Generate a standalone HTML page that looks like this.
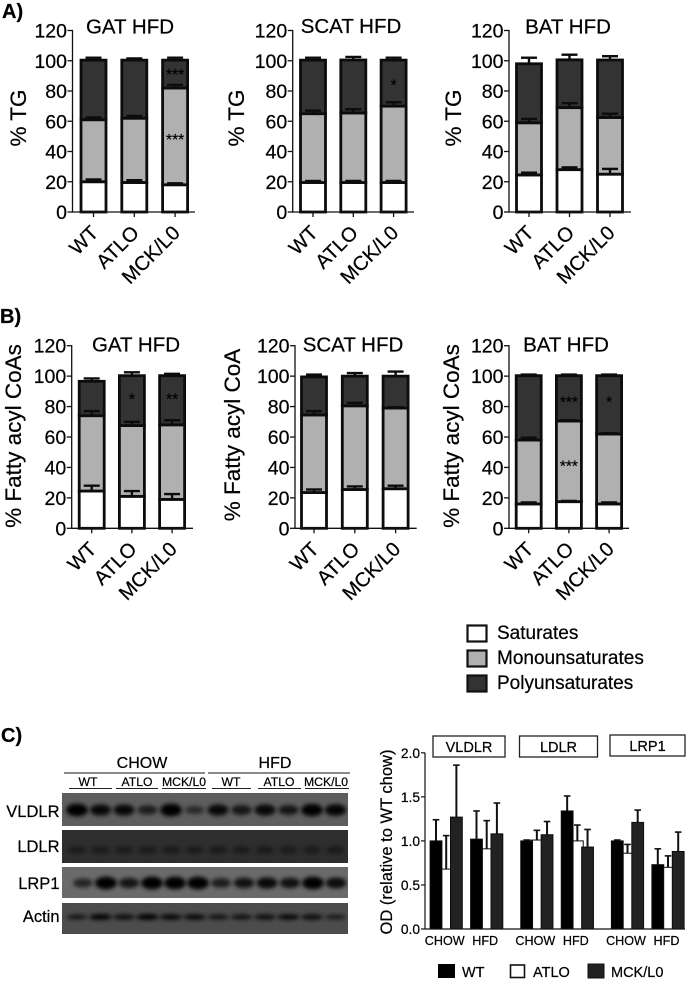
<!DOCTYPE html>
<html lang="en">
<head>
<meta charset="utf-8">
<title>Lipid composition and receptor blots</title>
<style>
html,body{margin:0;padding:0;background:#fff;}
svg{display:block;font-family:"Liberation Sans",Arial,sans-serif;filter:blur(0.3px);}
text{fill:#000;stroke:#000;stroke-width:0.22px;}
</style>
</head>
<body>
<svg id="fig" xmlns="http://www.w3.org/2000/svg" width="693" height="1002" viewBox="0 0 693 1002">
<defs>
<filter id="bandBlur" x="-40%" y="-80%" width="180%" height="260%"><feGaussianBlur stdDeviation="2"/></filter>
</defs>
<text x="2" y="18" font-size="20" font-weight="bold">A)</text>
<text x="0" y="323" font-size="20" font-weight="bold">B)</text>
<text x="1" y="742" font-size="20" font-weight="bold">C)</text>

<g>
<rect x="467.5" y="625.5" width="19" height="16" fill="#fff" stroke="#111" stroke-width="2.2"/>
<rect x="467.5" y="650.5" width="19" height="16" fill="#b0b0b0" stroke="#111" stroke-width="2.2"/>
<rect x="467.5" y="675.5" width="19" height="16" fill="#333" stroke="#111" stroke-width="2.2"/>
<text x="497" y="639" font-size="19">Saturates</text>
<text x="497" y="664" font-size="19">Monounsaturates</text>
<text x="497" y="689" font-size="19">Polyunsaturates</text>
</g>

<g>
<text x="142" y="768" font-size="16" text-anchor="middle">CHOW</text>
<text x="275" y="768" font-size="16" text-anchor="middle">HFD</text>
<line x1="64" x2="205" y1="773" y2="773" stroke="#444" stroke-width="1.2"/>
<line x1="208" x2="350" y1="773" y2="773" stroke="#444" stroke-width="1.2"/>
<text x="88" y="786" font-size="12.2" text-anchor="middle">WT</text>
<text x="137" y="786" font-size="12.2" text-anchor="middle">ATLO</text>
<text x="184" y="786" font-size="12.2" text-anchor="middle">MCK/L0</text>
<text x="231" y="786" font-size="12.2" text-anchor="middle">WT</text>
<text x="279" y="786" font-size="12.2" text-anchor="middle">ATLO</text>
<text x="326" y="786" font-size="12.2" text-anchor="middle">MCK/L0</text>
<line x1="69" x2="112" y1="788.5" y2="788.5" stroke="#222"/>
<line x1="116" x2="158" y1="788.5" y2="788.5" stroke="#222"/>
<line x1="162" x2="206" y1="788.5" y2="788.5" stroke="#222"/>
<line x1="212" x2="251" y1="788.5" y2="788.5" stroke="#222"/>
<line x1="258" x2="301" y1="788.5" y2="788.5" stroke="#222"/>
<line x1="305" x2="349" y1="788.5" y2="788.5" stroke="#222"/>
</g>
<g>
<text x="59.5" y="817" font-size="16.5" text-anchor="end">VLDLR</text>
<text x="59.5" y="852" font-size="16.5" text-anchor="end">LDLR</text>
<text x="59.5" y="889" font-size="16.5" text-anchor="end">LRP1</text>
<text x="59.5" y="922" font-size="16.5" text-anchor="end">Actin</text>
</g>
<g id="blots"></g>
<g id="stacked"></g>

<g>
<rect x="433" y="736" width="72" height="21" fill="#fff" stroke="#222" stroke-width="1.3"/>
<text x="469" y="752" font-size="14.5" text-anchor="middle">VLDLR</text>
<rect x="519.5" y="736" width="78" height="21" fill="#fff" stroke="#222" stroke-width="1.3"/>
<text x="558.5" y="752" font-size="14.5" text-anchor="middle">LDLR</text>
<rect x="610" y="735" width="75" height="21" fill="#fff" stroke="#222" stroke-width="1.3"/>
<text x="647.5" y="751" font-size="14.5" text-anchor="middle">LRP1</text>
</g>
<g id="od"></g>
<text transform="translate(392,842) rotate(-90)" font-size="16.5" text-anchor="middle">OD (relative to WT chow)</text>
<g>
<rect x="438" y="964" width="17" height="14" fill="#000"/>
<text x="462" y="977" font-size="14.5">WT</text>
<rect x="510.5" y="965" width="14" height="12.5" fill="#fff" stroke="#111" stroke-width="1.6"/>
<text x="533" y="977" font-size="14.5">ATLO</text>
<rect x="588" y="964" width="16" height="14" fill="#222" stroke="#111"/>
<text x="611" y="977" font-size="14.5">MCK/L0</text>
</g>
</svg>
<script>
// ---------- stacked composition data (segment means and error values, %) ----------
const genotypes = ['WT', 'ATLO', 'MCK/L0'];
const percentTicks = [0, 20, 40, 60, 80, 100, 120];

const gatTgSat = [20, 19.5, 18];
const gatTgMono = [41, 42.5, 64];
const gatTgPoly = [39.4, 38.4, 18.4];
const gatTgSatErr = [1.5, 1.5, 1];
const gatTgMonoErr = [1.5, 1.5, 2];
const gatTgPolyErr = [1.6, 1.1, 1.6];

const scatTgSat = [19.5, 19.5, 19.5];
const scatTgMono = [45.5, 46, 50.5];
const scatTgPoly = [35.4, 35, 30.4];
const scatTgSatErr = [1, 1, 1];
const scatTgMonoErr = [2, 2.5, 2.5];
const scatTgPolyErr = [1.6, 2, 1.6];

const batTgSat = [24.5, 28, 25];
const batTgMono = [34.5, 41, 37.5];
const batTgPoly = [39, 31.6, 38];
const batTgSatErr = [1.5, 1.5, 3.5];
const batTgMonoErr = [2.5, 3, 2.5];
const batTgPolyErr = [4, 3.4, 2.5];

const gatCoaSat = [24.5, 21, 19];
const gatCoaMono = [49.5, 46.5, 49];
const gatCoaPoly = [22.6, 32.8, 32.3];
const gatCoaSatErr = [3.5, 3.5, 3.5];
const gatCoaMonoErr = [3, 2.5, 3];
const gatCoaPolyErr = [1.9, 2.2, 1.2];

const scatCoaSat = [23.5, 25.5, 26];
const scatCoaMono = [51, 55, 53];
const scatCoaPoly = [25, 19.5, 21];
const scatCoaSatErr = [2, 2, 2];
const scatCoaMonoErr = [2.5, 2, 0.5];
const scatCoaPolyErr = [1.5, 2, 3];

const batCoaSat = [16, 17.5, 16];
const batCoaMono = [42, 53, 46];
const batCoaPoly = [42.3, 29.8, 38.3];
const batCoaSatErr = [1, 0.5, 1];
const batCoaMonoErr = [1.5, 0.5, 0.5];
const batCoaPolyErr = [0.7, 0.7, 0.7];

// ---------- OD chart data ----------
const proteins = ['VLDLR', 'LDLR', 'LRP1'];
const conditions = ['CHOW', 'HFD'];
const odTicks = ['0.0', '0.5', '1.0', '1.5', '2.0'];
const odWt = [1.0, 1.02, 1.0, 1.34, 1.0, 0.73];
const odAtlo = [0.68, 0.91, 1.01, 1.0, 0.86, 0.70];
const odMck = [1.27, 1.08, 1.07, 0.93, 1.21, 0.88];
const odWtErr = [0.24, 0.32, 0.01, 0.17, 0.01, 0.18];
const odAtloErr = [0.38, 0.32, 0.11, 0.18, 0.10, 0.13];
const odMckErr = [0.59, 0.35, 0.15, 0.20, 0.14, 0.22];

// ---------- blot band intensities, lane by lane ----------
const vldlrBands = [1, 0.8, 0.8, 0.5, 1, 0.3, 0.8, 0.6, 0.8, 0.6, 0.95, 0.85];
const ldlrBands = [0.1, 0.1, 0.1, 0.1, 0.12, 0.1, 0.12, 0.1, 0.1, 0.1, 0.08, 0.12];
const lrp1Bands = [0.45, 1, 0.65, 1, 1, 1, 0.55, 0.7, 0.8, 0.7, 1, 0.75];
const actinBands = [0.6, 0.95, 0.75, 1, 0.85, 0.85, 0.65, 0.7, 0.75, 0.85, 0.8, 0.55];

const SVGNS = 'http://www.w3.org/2000/svg';
function mk(tag, attrs, parent, txt) {
  const el = document.createElementNS(SVGNS, tag);
  for (const k in attrs) el.setAttribute(k, attrs[k]);
  if (txt !== undefined) el.textContent = txt;
  parent.appendChild(el);
  return el;
}

const stackedRoot = document.getElementById('stacked');
const panels = [
  {id:'a-gat', title:'GAT HFD', ytitle:'% TG', s:[gatTgSat,gatTgMono,gatTgPoly], e:[gatTgSatErr,gatTgMonoErr,gatTgPolyErr], ax:72.5, y0:212, y120:30.5, c0:93.5, step:40.8, end:195, tx:130, ty:33.5, yx:26, yc:118, stars:[[2,92,'***'],[2,49,'***']]},
  {id:'a-scat', title:'SCAT HFD', ytitle:'% TG', s:[scatTgSat,scatTgMono,scatTgPoly], e:[scatTgSatErr,scatTgMonoErr,scatTgPolyErr], ax:292.7, y0:212, y120:30.5, c0:313, step:40.3, end:414, tx:351, ty:33, yx:244, yc:118, stars:[[2,85,'*']]},
  {id:'a-bat', title:'BAT HFD', ytitle:'% TG', s:[batTgSat,batTgMono,batTgPoly], e:[batTgSatErr,batTgMonoErr,batTgPolyErr], ax:509, y0:212, y120:30.5, c0:529, step:40.5, end:631, tx:568, ty:33.5, yx:461, yc:118, stars:[]},
  {id:'b-gat', title:'GAT HFD', ytitle:'% Fatty acyl CoAs', s:[gatCoaSat,gatCoaMono,gatCoaPoly], e:[gatCoaSatErr,gatCoaMonoErr,gatCoaPolyErr], ax:71.7, y0:528.3, y120:345.7, c0:91.7, step:40.2, end:193, tx:136, ty:351.5, yx:21, yc:436, stars:[[1,86,'*'],[2,86,'**']]},
  {id:'b-scat', title:'SCAT HFD', ytitle:'% Fatty acyl CoA', s:[scatCoaSat,scatCoaMono,scatCoaPoly], e:[scatCoaSatErr,scatCoaMonoErr,scatCoaPolyErr], ax:295, y0:528.3, y120:345.7, c0:314, step:40.8, end:416.7, tx:353, ty:351.5, yx:240, yc:435, stars:[]},
  {id:'b-bat', title:'BAT HFD', ytitle:'% Fatty acyl CoAs', s:[batCoaSat,batCoaMono,batCoaPoly], e:[batCoaSatErr,batCoaMonoErr,batCoaPolyErr], ax:509, y0:528.3, y120:345.7, c0:528.7, step:40.2, end:629, tx:566, ty:351.5, yx:459, yc:436, stars:[[1,84,'***'],[1,42,'***'],[2,84,'*']]}
];
const segmentFills = ['#ffffff', '#b0b0b0', '#333333'];
const segmentNames = ['saturates', 'monounsaturates', 'polyunsaturates'];
const BAR_W = 25;

panels.forEach(function (p) {
  const g = mk('g', {}, stackedRoot);
  
  
  const yScale = function (v) { return p.y0 - (p.y0 - p.y120) * v / 120; };
  const xScale = function (i) { return p.c0 + i * p.step; };

  const title = mk('text', {x: p.tx, y: p.ty, 'font-size': 20.5, 'text-anchor': 'middle'}, g, p.title);
  
  

  const yTitle = mk('text', {transform: 'translate(' + p.yx + ',' + p.yc + ') rotate(-90)', 'font-size': 22.5, 'text-anchor': 'middle'}, g, p.ytitle);
  
  

  genotypes.forEach(function (name, i) {
    let base = 0;
    const cx = xScale(i);
    const errs = [];
    p.s.forEach(function (series, k) {
      const top = base + series[i];
      errs.push([top, top + p.e[k][i]]);
      const rect = mk('rect', {x: cx - BAR_W / 2, y: yScale(top), width: BAR_W, height: yScale(base) - yScale(top), fill: segmentFills[k], stroke: '#0c0c0c', 'stroke-width': 2.8}, g);
      
      
      base = top;
    });
    errs.forEach(function (pair) {
      const stem = mk('line', {x1: cx, x2: cx, y1: yScale(pair[0]), y2: yScale(pair[1]), stroke: '#0c0c0c', 'stroke-width': 2.4}, g);
      
      
      const cap = mk('line', {x1: cx - 8, x2: cx + 8, y1: yScale(pair[1]), y2: yScale(pair[1]), stroke: '#0c0c0c', 'stroke-width': 2.4}, g);
      
      
    });
    const tick = mk('line', {x1: cx, x2: cx, y1: p.y0, y2: p.y0 + 5, stroke: '#111', 'stroke-width': 1.3}, g);
    
    
    const lbl = mk('text', {transform: 'translate(' + (cx + 6) + ',' + (p.y0 + 22) + ') rotate(-45)', 'font-size': 20, 'text-anchor': 'end'}, g, name);
    
    
  });

  p.stars.forEach(function (st) {
    const star = mk('text', {x: xScale(st[0]), y: yScale(st[1]) + 7, 'font-size': 15.5, 'text-anchor': 'middle'}, g, st[2]);
    
    
  });

  const yAxis = mk('line', {x1: p.ax, x2: p.ax, y1: p.y120 - 0.6, y2: p.y0 + 0.6, stroke: '#111', 'stroke-width': 1.3}, g);
  
  
  const xAxis = mk('line', {x1: p.ax, x2: p.end, y1: p.y0, y2: p.y0, stroke: '#111', 'stroke-width': 1.3}, g);
  
  
  percentTicks.forEach(function (t) {
    const tk = mk('line', {x1: p.ax - 5, x2: p.ax, y1: yScale(t), y2: yScale(t), stroke: '#111', 'stroke-width': 1.3}, g);
    
    
    const tl = mk('text', {x: p.ax - 5.5, y: yScale(t) + 7, 'font-size': 19.5, 'text-anchor': 'end'}, g, String(t));
    
    
  });
});

// ---------- OD grouped bars ----------
const odRoot = document.getElementById('od');
const odY = function (v) { return 929 - 88.1 * v; };
const odX = function (proteinIdx, condIdx, seriesIdx) { return 436 + proteinIdx * 90.65 + condIdx * 40.5 + seriesIdx * 10.2; };
const odSeries = [
  {key: 'atlo', idx: 1, vals: odAtlo, errs: odAtloErr, fill: '#fff'},
  {key: 'wt', idx: 0, vals: odWt, errs: odWtErr, fill: '#000'},
  {key: 'mck', idx: 2, vals: odMck, errs: odMckErr, fill: '#222'}
];
odSeries.forEach(function (s) {
  s.vals.forEach(function (v, n) {
    const pi = Math.floor(n / conditions.length);
    const ci = n % conditions.length;
    const cx = odX(pi, ci, s.idx);
    const stem = mk('line', {x1: cx, x2: cx, y1: odY(v), y2: odY(v + s.errs[n]), stroke: '#111', 'stroke-width': 2}, odRoot);
    
    
    const cap = mk('line', {x1: cx - 3.3, x2: cx + 3.3, y1: odY(v + s.errs[n]), y2: odY(v + s.errs[n]), stroke: '#111', 'stroke-width': 1.6}, odRoot);
    
    
    const bar = mk('rect', {x: cx - 5.9, y: odY(v), width: 11.8, height: odY(0) - odY(v), fill: s.fill, stroke: '#0c0c0c', 'stroke-width': 1}, odRoot);
    
    
  });
});
proteins.forEach(function (prot, pi) {
  conditions.forEach(function (cond, ci) {
    const lab = mk('text', {x: odX(pi, ci, 1) - 1.5, y: 945, 'font-size': 12.6, 'text-anchor': 'middle'}, odRoot, cond);
    
    
  });
});
const odYAxis = mk('line', {x1: 425, x2: 425, y1: odY(2), y2: odY(0), stroke: '#111', 'stroke-width': 1.2}, odRoot);


const odXAxis = mk('line', {x1: 425, x2: 685, y1: odY(0), y2: odY(0), stroke: '#111', 'stroke-width': 1.2}, odRoot);


odTicks.forEach(function (t) {
  const v = parseFloat(t);
  const tk = mk('line', {x1: 421, x2: 425, y1: odY(v), y2: odY(v), stroke: '#111', 'stroke-width': 1.2}, odRoot);
  
  
  const tl = mk('text', {x: 420, y: odY(v) + 5, 'font-size': 13.8, 'text-anchor': 'end'}, odRoot, t);
  
  
});

// ---------- blots ----------
const blotRoot = document.getElementById('blots');
const blotRows = [
  {name: 'vldlr', y: 793, h: 33, bg: '#5e5e5e', cy: 810, ry: 5.5, vals: vldlrBands, first: 77, step: 23.5, wide: 9},
  {name: 'ldlr', y: 830, h: 33, bg: '#2e2e2e', cy: 850, ry: 6, vals: ldlrBands, first: 77, step: 23.5, wide: 9},
  {name: 'lrp1', y: 867, h: 31, bg: '#6a6a6a', cy: 883, ry: 5.5, vals: lrp1Bands, first: 83, step: 23, wide: 9},
  {name: 'actin', y: 903, h: 31, bg: '#4c4c4c', cy: 917, ry: 2.6, vals: actinBands, first: 77, step: 23.5, wide: 9.5}
];
blotRows.forEach(function (r) {
  const g = mk('g', {}, blotRoot);
  
  
  const bg = mk('rect', {x: 62, y: r.y, width: 286, height: r.h, fill: r.bg}, g);
  
  
  const clipId = 'clip-' + r.name;
  const cp = mk('clipPath', {id: clipId}, g);
  mk('rect', {x: 62, y: r.y, width: 286, height: r.h}, cp);
  const inner = mk('g', {'clip-path': 'url(#' + clipId + ')'}, g);
  r.vals.forEach(function (v, i) {
    const cx = r.first + i * r.step;
    const band = mk('ellipse', {cx: cx, cy: r.cy, rx: r.wide + 2 * v, ry: r.ry * (0.55 + 0.6 * v), fill: '#000', opacity: Math.min(1, 0.35 + 0.7 * v), filter: 'url(#bandBlur)'}, inner);
    
    
  });
});
</script>
</body>
</html>
